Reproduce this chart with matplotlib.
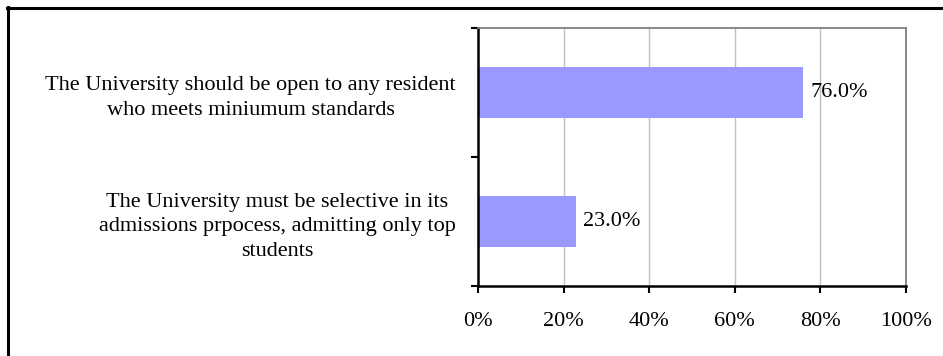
import matplotlib
matplotlib.use("Agg")
import matplotlib.pyplot as plt
from matplotlib.lines import Line2D
from matplotlib.ticker import FuncFormatter

# survey answers, bottom to top
answers = [
    "The University must be selective in its\nadmissions prpocess, admitting only top\nstudents",
    "The University should be open to any resident\nwho meets miniumum standards",
]
shares = [23.0, 76.0]
x_ticks = [0, 20, 40, 60, 80, 100]

plt.rcParams['font.family'] = ['Liberation Serif', 'DejaVu Serif']
plt.rcParams['font.size'] = 16

W, H = 943, 356
fig = plt.figure(figsize=(W / 100, H / 100), dpi=100)
ax = fig.add_axes([478 / W, 1 - 286 / H, (906 - 478) / W, (286 - 28) / H])

pos = list(range(len(answers)))
bars = ax.barh(pos, shares, height=0.4, color='#9999FF', zorder=2)
ax.bar_label(bars, labels=[f"{v:.1f}%" for v in shares], padding=5)

ax.set_xlim(0, 100)
ax.set_ylim(-0.5, len(answers) - 0.5)
ax.set_xticks(x_ticks)
ax.xaxis.set_major_formatter(FuncFormatter(lambda v, p: f"{v:.0f}%"))
ax.grid(axis='x', color='#C0C0C0', linewidth=1, zorder=0)
ax.set_axisbelow(True)

# category boundaries get ticks, centres get the labels
ax.set_yticks([p - 0.5 for p in pos] + [pos[-1] + 0.5])
ax.set_yticklabels([])
ax.set_yticks(pos, minor=True)
ax.set_yticklabels(answers, minor=True, multialignment='center', linespacing=1.42)
ax.tick_params(axis='y', which='minor', length=0, pad=16)
ax.tick_params(axis='y', which='major', length=5, width=1.5, color='black')
ax.tick_params(axis='x', length=5, width=1.5, color='black', pad=14)

for side in ['left', 'bottom']:
    ax.spines[side].set_color('black')
    ax.spines[side].set_linewidth(1.8)
for side in ['top', 'right']:
    ax.spines[side].set_color('#808080')
    ax.spines[side].set_linewidth(1.3)

# outer frame (only top and left visible in the original)
fig.add_artist(Line2D([7 / W, 1], [1 - 8.3 / H] * 2, transform=fig.transFigure,
                      color='black', linewidth=2.2))
fig.add_artist(Line2D([8.3 / W] * 2, [0, 1 - 7 / H], transform=fig.transFigure,
                      color='black', linewidth=2.2))

fig.savefig('out.png', dpi=100)
